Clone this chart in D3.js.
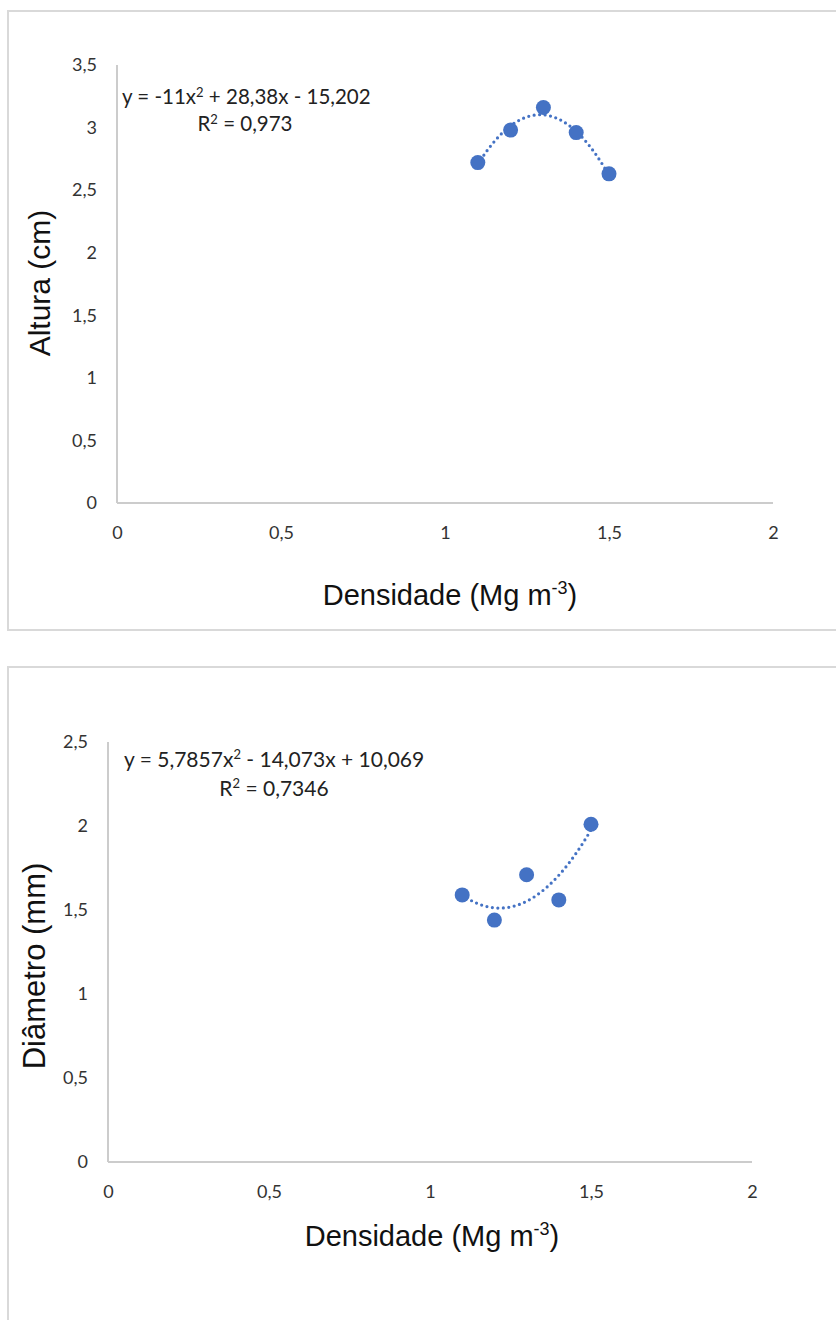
<!DOCTYPE html>
<html>
<head>
<meta charset="utf-8">
<script src="https://cdn.jsdelivr.net/npm/d3@7"></script>
<style>
  html, body { margin: 0; padding: 0; background: #fff; }
  svg { display: block; }
</style>
</head>
<body>
<svg id="chart" width="836" height="1320"></svg>
<script>
// Soil bulk density (Mg m-3) vs. plant height and stem diameter
const densidade = [1.1, 1.2, 1.3, 1.4, 1.5];
const altura = [2.72, 2.98, 3.16, 2.96, 2.63];
const diametro = [1.59, 1.44, 1.71, 1.56, 2.01];

// Quadratic trend coefficients [a, b, c] for y = a x² + b x + c
const alturaTrend = [-11, 28.38, -15.202];
const diametroTrend = [5.7857, -14.073, 10.069];

const xTicks = [0, 0.5, 1, 1.5, 2];
const alturaTicks = [0, 0.5, 1, 1.5, 2, 2.5, 3, 3.5];
const diametroTicks = [0, 0.5, 1, 1.5, 2, 2.5];

const locale = d3.formatLocale({ decimal: ",", thousands: ".", grouping: [3], currency: ["R$", ""] });
const fmt = locale.format("~g");

const BLUE = "#4472C4";
const svg = d3.select("#chart");

function panel(cfg) {
  const g = svg.append("g");

  // outer frame of the chart area
  g.append("rect")
    .attr("x", cfg.frame[0]).attr("y", cfg.frame[1])
    .attr("width", cfg.frame[2]).attr("height", cfg.frame[3])
    .attr("fill", "#fff").attr("stroke", "#d9d9d9").attr("stroke-width", 2);

  const x = d3.scaleLinear().domain([0, 2]).range([cfg.left, cfg.right]);
  const y = d3.scaleLinear().domain([0, cfg.yMax]).range([cfg.bottom, cfg.top]);

  // axis lines
  g.append("line").attr("x1", cfg.left).attr("x2", cfg.left)
    .attr("y1", cfg.top).attr("y2", cfg.bottom)
    .attr("stroke", "#cccccc").attr("stroke-width", 2);
  g.append("line").attr("x1", cfg.left).attr("x2", cfg.right)
    .attr("y1", cfg.bottom).attr("y2", cfg.bottom)
    .attr("stroke", "#cccccc").attr("stroke-width", 2);

  const tickFont = "Lato, 'Open Sans', sans-serif";

  const xAxis = g.append("g").attr("transform", `translate(0,${cfg.bottom})`)
    .call(d3.axisBottom(x).tickValues(xTicks).tickFormat(fmt).tickSize(0).tickPadding(23));
  xAxis.select(".domain").remove();
  xAxis.selectAll("text").attr("font-family", tickFont).attr("font-size", 18).attr("fill", "#333");

  const yAxis = g.append("g").attr("transform", `translate(${cfg.left},0)`)
    .call(d3.axisLeft(y).tickValues(cfg.yTicks).tickFormat(fmt).tickSize(0).tickPadding(20));
  yAxis.select(".domain").remove();
  yAxis.selectAll("text").attr("font-family", tickFont).attr("font-size", 18).attr("fill", "#333");

  // trend curve from the fitted equation
  const [a, b, c] = cfg.trend;
  const xs = d3.range(0, 101).map(i => 1.1 + i * 0.004);
  const line = d3.line().x(d => x(d)).y(d => y(a * d * d + b * d + c));
  g.append("path").datum(xs).attr("d", line)
    .attr("fill", "none").attr("stroke", BLUE).attr("stroke-width", 3.2)
    .attr("stroke-linecap", "round").attr("stroke-dasharray", "0 5.5");

  // data points
  g.selectAll("circle.pt").data(densidade.map((d, i) => [d, cfg.values[i]]))
    .join("circle").attr("class", "pt")
    .attr("cx", d => x(d[0])).attr("cy", d => y(d[1])).attr("r", 7.5)
    .attr("fill", BLUE);

  // equation label
  const fs = cfg.eqSize;
  const sup = Math.round(fs * 0.62);
  const eq = g.append("text").attr("x", cfg.eqPos[0]).attr("y", cfg.eqPos[1])
    .attr("font-family", tickFont).attr("font-size", fs).attr("fill", "#222");
  eq.append("tspan").text(cfg.eqParts[0]);
  eq.append("tspan").text("2").attr("font-size", sup).attr("dy", -fs * 0.36);
  eq.append("tspan").text(cfg.eqParts[1]).attr("dy", fs * 0.36);

  const r2 = g.append("text").attr("x", cfg.r2Pos[0]).attr("y", cfg.r2Pos[1])
    .attr("text-anchor", "middle")
    .attr("font-family", tickFont).attr("font-size", fs).attr("fill", "#222");
  r2.append("tspan").text("R");
  r2.append("tspan").text("2").attr("font-size", sup).attr("dy", -fs * 0.36);
  r2.append("tspan").text(" = " + cfg.r2).attr("dy", fs * 0.36);

  // axis titles
  const titleFont = "'Liberation Sans', Arial, sans-serif";
  const xt = g.append("text").attr("x", cfg.xTitlePos[0]).attr("y", cfg.xTitlePos[1])
    .attr("text-anchor", "middle").attr("font-family", titleFont)
    .attr("font-size", 29).attr("fill", "#111");
  xt.append("tspan").text("Densidade (Mg m");
  xt.append("tspan").text("-3").attr("font-size", 18).attr("dy", -11);
  xt.append("tspan").text(")").attr("dy", 11);

  g.append("text")
    .attr("transform", `translate(${cfg.yTitlePos[0]},${cfg.yTitlePos[1]}) rotate(-90)`)
    .attr("text-anchor", "middle").attr("font-family", titleFont)
    .attr("font-size", cfg.yTitleSize).attr("fill", "#111")
    .text(cfg.yTitle);
}

panel({
  frame: [8, 11, 840, 619],
  left: 117, right: 773, top: 65, bottom: 503,
  yMax: 3.5, yTicks: alturaTicks, values: altura, trend: alturaTrend,
  eqParts: ["y = -11x", " + 28,38x - 15,202"], eqSize: 20.5,
  eqPos: [122, 104], r2: "0,973", r2Pos: [245, 131],
  xTitlePos: [450, 605], yTitlePos: [50, 283], yTitle: "Altura (cm)", yTitleSize: 30
});

panel({
  frame: [8, 667, 840, 670],
  left: 108, right: 752, top: 742, bottom: 1162,
  yMax: 2.5, yTicks: diametroTicks, values: diametro, trend: diametroTrend,
  eqParts: ["y = 5,7857x", " - 14,073x + 10,069"], eqSize: 21,
  eqPos: [124, 767], r2: "0,7346", r2Pos: [274, 796],
  xTitlePos: [432, 1246], yTitlePos: [45, 966], yTitle: "Diâmetro (mm)", yTitleSize: 31
});
</script>
</body>
</html>
